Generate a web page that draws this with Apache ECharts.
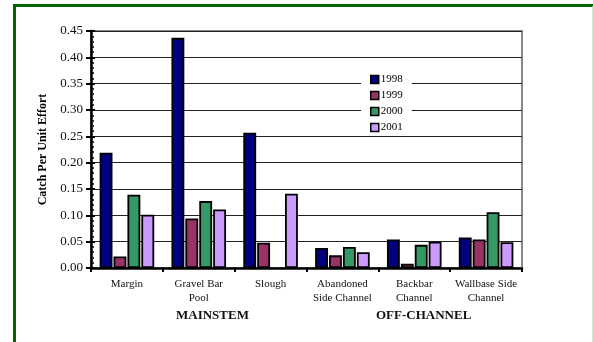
<!DOCTYPE html>
<html>
<head>
<meta charset="utf-8">
<script src="https://cdn.jsdelivr.net/npm/echarts@6/dist/echarts.min.js"></script>
<style>
html,body{margin:0;padding:0;background:#fff;}
#frame{position:absolute;left:13px;top:4px;width:576px;height:340px;
	border-top:3px solid #006600;border-left:3px solid #006600;
	border-right:2px solid #cfe8cf;}
#main{position:absolute;left:0;top:0;width:593px;height:342px;}
</style>
</head>
<body>
<div id="frame"></div>
<div id="main"></div>
<script>
var categories = ['Margin', 'Gravel Bar\nPool', 'Slough', 'Abandoned\nSide Channel', 'Backbar\nChannel', 'Wallbase Side\nChannel'];
var years = ['1998', '1999', '2000', '2001'];
var colors = ['#000080', '#993366', '#339966', '#cc99ff'];
var cpue1998 = [0.219, 0.437, 0.257, 0.038, 0.054, 0.058];
var cpue1999 = [0.022, 0.094, 0.048, 0.024, 0.008, 0.054];
var cpue2000 = [0.139, 0.127, null, 0.040, 0.044, 0.106];
var cpue2001 = [0.101, 0.111, 0.141, 0.030, 0.050, 0.049];
var yTicks = {min: 0, max: 0.45, interval: 0.05};

(function(){
	var chart = echarts.init(document.getElementById('main'));
	var serif = '"Liberation Serif", "Times New Roman", serif';
	var values = [cpue1998, cpue1999, cpue2000, cpue2001];

	var series = [];
	for(var i=0;i<years.length;i++){
		series.push({
			name: years[i],
			type: 'bar',
			data: values[i],
			barGap: '8%',
			barCategoryGap: '24%',
			itemStyle: {color: colors[i], borderColor: '#000', borderWidth: 1.8},
			z: 3
		});
	}

	var option = {
		animation: false,
		textStyle: {fontFamily: serif},
		grid: {left: 91, right: 71, top: 31, bottom: 74, show: true,
			borderColor: '#888', borderWidth: 2, backgroundColor: '#fff'},
		legend: {
			orient: 'vertical', left: 361, top: 71,
			data: years,
			backgroundColor: '#fff',
			padding: [3, 9, 3, 9],
			itemWidth: 8, itemHeight: 8, itemGap: 5,
			icon: 'rect',
			itemStyle: {borderColor: '#000', borderWidth: 1.5},
			textStyle: {fontFamily: serif, fontSize: 11, color: '#000', padding: [0, 0, 0, -3]}
		},
		xAxis: {
			type: 'category',
			data: categories,
			axisLine: {lineStyle: {color: '#000', width: 2.5}},
			axisTick: {show: true, length: 4, lineStyle: {color: '#000', width: 2}},
			axisLabel: {fontFamily: serif, fontSize: 11, color: '#111', lineHeight: 14, margin: 9, interval: 0}
		},
		yAxis: [{
			type: 'value',
			min: yTicks.min, max: yTicks.max, interval: yTicks.interval,
			name: 'Catch Per Unit Effort',
			nameLocation: 'middle',
			nameGap: 42,
			nameTextStyle: {fontFamily: serif, fontSize: 12, fontWeight: 'bold', color: '#000'},
			axisLine: {show: true, lineStyle: {color: '#000', width: 2.5}},
			axisTick: {show: true, length: 5, lineStyle: {color: '#000', width: 2}},
			axisLabel: {fontFamily: serif, fontSize: 13, color: '#111', margin: 8,
				formatter: function(v){ return v.toFixed(2); }},
			splitLine: {show: true, lineStyle: {color: '#222', width: 1}}
		}, {
			type: 'value',
			min: yTicks.min, max: yTicks.max, interval: yTicks.interval,
			position: 'left',
			axisLine: {show: false},
			axisTick: {show: true, inside: true, length: 4, lineStyle: {color: '#000', width: 2}},
			minorTick: {show: true, splitNumber: 5, length: 3, lineStyle: {color: '#000', width: 1.5}},
			axisLabel: {show: false},
			splitLine: {show: false}
		}],
		graphic: [
			{type: 'text', left: 176, top: 309, style: {text: 'MAINSTEM', fontFamily: serif, fontSize: 13, fontWeight: 'bold', fill: '#111'}},
			{type: 'text', left: 376, top: 309, style: {text: 'OFF-CHANNEL', fontFamily: serif, fontSize: 13, fontWeight: 'bold', fill: '#111'}}
		],
		series: series
	};
	chart.setOption(option);
})();
</script>
</body>
</html>
